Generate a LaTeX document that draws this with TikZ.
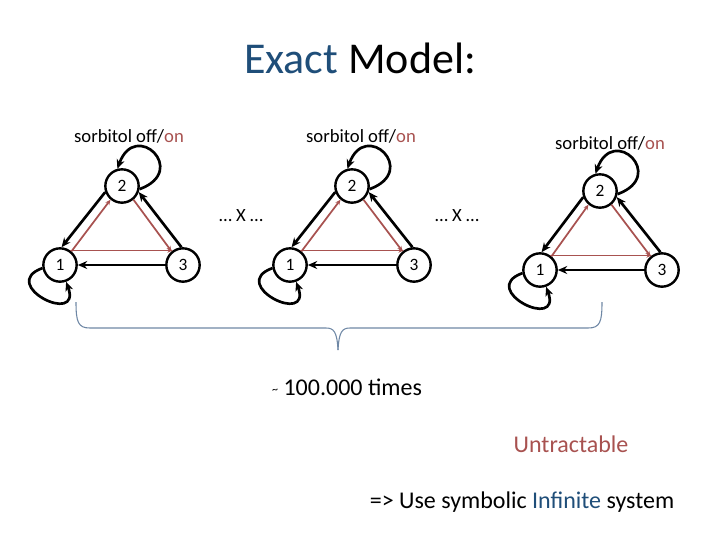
\documentclass[tikz,border=0pt]{standalone}
\usepackage{fontspec}
\setmainfont{Carlito}
\usetikzlibrary{arrows.meta}
\definecolor{rb}{RGB}{168,82,80}
\definecolor{bl}{RGB}{31,78,121}
\definecolor{br}{RGB}{110,135,165}
\begin{document}
\begin{tikzpicture}[x=0.75pt,y=-0.75pt,
 st/.style={circle,draw,line width=1.8pt,minimum size=25pt,inner sep=0pt,font=\fontsize{13}{14}\selectfont},
 blk/.style={line width=2pt,-{Stealth[length=7pt,width=6pt]}},
 red/.style={draw=rb,line width=1.3pt,-{Stealth[length=4pt,width=3.5pt]}},
 lbl/.style={font=\fontsize{14}{16}\selectfont},
 loopst/.style={line width=2pt,-{Stealth[length=7pt,width=6pt]},looseness=4.5}]
\useasboundingbox (0,0) rectangle (720,540);
\node[font=\fontsize{33}{38}\selectfont] (title) at (360,58) {\textcolor{bl}{Exact} Model:};
\foreach \p/\ax/\ay/\bx/\by/\cx/\cy/\lx/\ly in {L/122/186/60/265/183/265/129/136, M/352/186/290/265/414/265/361/136, R/600/191/540/270/662/270/610/143}{
 \node[st] (\p2) at (\ax,\ay) {2};
 \node[st] (\p1) at (\bx,\by) {1};
 \node[st] (\p3) at (\cx,\cy) {3};
 \node[lbl] (\p l) at (\lx,\ly) {sorbitol off/\textcolor{rb}{on}};
 \draw[blk] (\p2.200) -- (\p1.85);
 \draw[blk] (\p3.95) -- (\p2.-20);
 \draw[blk] (\p3.west) -- (\p1.east);
 \draw[red] (\p1.50) -- (\p2.230);
 \draw[red] (\p2.-50) -- (\p3.130);
 \draw[red] (\p1.55) -- (\p3.125);
 \draw[loopst] (\p2.-10) to[out=20,in=70] (\p2.105);
 \draw[loopst] (\p1.190) to[out=200,in=-70] (\p1.-70);
}
\node[lbl] (x1) at (241,216) {… X …};
\node[lbl] (x2) at (457,216) {… X …};
\draw[br,line width=0.8pt] (76,302) .. controls (76,322) and (78,328) .. (90,328) -- (326,328) .. controls (334,328) and (337,332) .. (338,350);
\draw[br,line width=0.8pt] (602,302) .. controls (602,322) and (600,328) .. (588,328) -- (350,328) .. controls (342,328) and (339,332) .. (338,350);
\node[font=\fontsize{18}{21}\selectfont] (t) at (347,387) {{\fontsize{9}{10}\selectfont\raisebox{1pt}{\textasciitilde}} 100.000 times};
\node[font=\fontsize{18}{21}\selectfont,text=rb] (u) at (571,444) {Untractable};
\node[font=\fontsize{18}{21}\selectfont] (s) at (522,502) {=> Use symbolic \textcolor{bl}{Infinite} system};
\end{tikzpicture}
\end{document}
